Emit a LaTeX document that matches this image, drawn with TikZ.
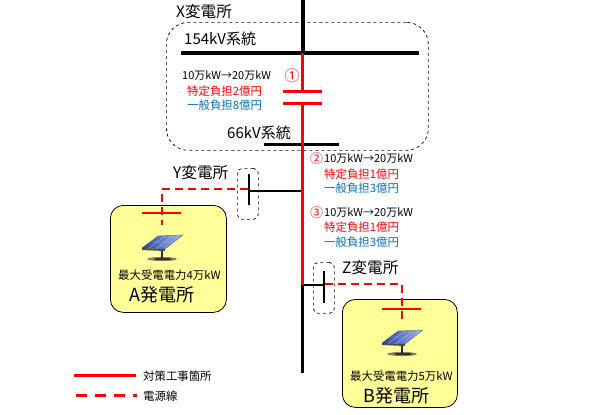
\documentclass[tikz,border=0pt]{standalone}
\usepackage{fontspec}
\setmainfont{Noto Sans CJK JP}
\usepackage{xcolor}
\usetikzlibrary{positioning, calc}
\definecolor{pwr}{HTML}{FF0000}
\definecolor{gen}{HTML}{0070C0}
\definecolor{plant}{HTML}{FFFF99}
\definecolor{cellA}{HTML}{1F3FA8}
\definecolor{cellB}{HTML}{A9BDF0}

\begin{document}
\begin{tikzpicture}[x=1pt, y=-1pt,
  lbl/.style={font=\fontsize{15}{16}\selectfont, inner sep=0pt},
  stn/.style={font=\fontsize{15.6}{16}\selectfont, inner sep=0pt},
  plantlbl/.style={font=\fontsize{18}{19}\selectfont, inner sep=0pt},
  small/.style={font=\fontsize{11.4}{12}\selectfont, inner sep=0pt},
  upgrade/.style={font=\fontsize{11}{12}\selectfont, inner sep=0pt},
  cost/.style={small, text=pwr},
  gencost/.style={small, text=gen},
  subst/.style={draw, dashed, rounded corners=5pt, line width=0.7pt},
  plantbox/.style={draw, fill=plant, rounded corners=13pt, line width=0.8pt},
  bus/.style={draw, line width=4pt},
  redline/.style={draw=pwr, line width=3pt},
  feed/.style={draw=pwr, line width=2.5pt, dashed, dash pattern=on 8pt off 5pt},
  panel/.pic={
    \fill[black!70, opacity=0.7] (0,23) ellipse (15pt and 2pt);
    \fill[black!85] (-1,15) rectangle (1,22);
    \fill[black!80] (-8,22) -- (8,22) -- (10,24) -- (-6,24) -- cycle;
    \shade[left color=cellA, right color=cellB, draw=black!60, line width=0.4pt]
      (-20,12) -- (-4,0) -- (21,-1) -- (3,13) -- cycle;
    \fill[black!70] (-20,12) -- (3,13) -- (3,15) -- (-20,14) -- cycle;
    \draw[white!60!cellA, line width=0.4pt] (-12,6) -- (12,6) (-14,12.5) -- (3,0) (-6,12.7) -- (11,-0.5);
  }
]
  \useasboundingbox (0,0) rectangle (595,415);

  % yellow boxes
  \node[plantbox, minimum width=116pt, minimum height=107pt, anchor=north west] (plantA) at (110,205) {};
  \node[plantbox, minimum width=115pt, minimum height=108pt, anchor=north west] (plantB) at (342,299) {};

  % dashed substations
  \node[subst, rounded corners=22pt, minimum width=262pt, minimum height=128pt, anchor=north west] (substX) at (166,22) {};
  \node[subst, minimum width=21pt, minimum height=51pt, anchor=north west] (substY) at (237,168) {};
  \node[subst, minimum width=21pt, minimum height=51pt, anchor=north west] (substZ) at (313,262) {};

  % points on the lines
  \coordinate (top) at (302.5,0);
  \coordinate (busL) at (181,53);
  \coordinate (busR) at (419,53);
  \coordinate (busC) at (302.5,53);
  \coordinate (capTL) at (283,91.5);
  \coordinate (capTR) at (322,91.5);
  \coordinate (capTC) at (302.5,91.5);
  \coordinate (capBL) at (283,103);
  \coordinate (capBR) at (322,103);
  \coordinate (capBC) at (302.5,103);
  \coordinate (lowL) at (264,144.5);
  \coordinate (lowR) at (339,144.5);
  \coordinate (jctY) at (302.5,190.5);
  \coordinate (jctZ) at (302.5,285);
  \coordinate (bottom) at (302.5,373);

  \coordinate (barYt) at (249,174);
  \coordinate (barYb) at (249,205);
  \coordinate (barYc) at (249,190.5);
  \coordinate (barZt) at (324,271);
  \coordinate (barZb) at (324,303);
  \coordinate (barZc) at (324,285);

  % black lines
  \draw[bus] (top) -- (busC);
  \draw[bus] (busL) -- (busR);
  \draw[line width=2.5pt] (lowL) -- (lowR);
  \draw[line width=3pt] (jctZ) -- (bottom);
  \draw[line width=2pt] (jctY) -- (barYc);
  \draw[line width=2pt] (jctZ) -- (barZc);
  \draw[line width=2.5pt] (barYt) -- (barYb);
  \draw[line width=2.5pt] (barZt) -- (barZb);

  % red lines
  \draw[redline] (busC) -- (capTC);
  \draw[redline] (capTL) -- (capTR);
  \draw[redline] (capBL) -- (capBR);
  \draw[redline] (capBC) -- (jctZ);

  % power feeds
  \coordinate (feedYs) at (248,189);
  \coordinate (feedYm) at (162,189);
  \coordinate (feedYe) at (162,225);
  \coordinate (feedZs) at (325,284);
  \coordinate (feedZm) at (402,284);
  \coordinate (feedZe) at (402,321);
  \coordinate (rxAl) at (142,213);
  \coordinate (rxAr) at (181,213);
  \coordinate (rxBl) at (382,309);
  \coordinate (rxBr) at (421,309);
  \draw[feed] (feedYs) -- (feedYm) -- (feedYe);
  \draw[feed] (feedZs) -- (feedZm) -- (feedZe);
  \draw[redline, line width=2.5pt] (rxAl) -- (rxAr);
  \draw[redline, line width=2.5pt] (rxBl) -- (rxBr);

  \pic at (162,236) {panel};
  \pic at (402,331) {panel};

  % labels
  \node[stn, anchor=west] (nameX) at (176,12) {X変電所};
  \node[lbl, anchor=west] (hv) at (184,39) {154kV系統};
  \node[lbl, anchor=west] (lv) at (227,133) {66kV系統};
  \node[stn, anchor=west] (nameY) at (173,173) {Y変電所};
  \node[stn, anchor=west] (nameZ) at (342,268) {Z変電所};

  \node[upgrade, anchor=west] (upA) at (182,76) {10万kW→20万kW};
  \node[small, text=pwr, font=\fontsize{15}{16}\selectfont] (numA) at (292,76) {①};
  \node[cost, anchor=west] (costA) at (187,91) {特定負担2億円};
  \node[gencost, anchor=west] (genA) at (187,105) {一般負担8億円};

  \node[small, text=pwr, font=\fontsize{13}{14}\selectfont] (numB) at (316.5,159) {②};
  \node[upgrade, anchor=west] (upB) at (324,159) {10万kW→20万kW};
  \node[cost, anchor=west] (costB) at (324,174) {特定負担1億円};
  \node[gencost, anchor=west] (genB) at (324,188) {一般負担3億円};

  \node[small, text=pwr, font=\fontsize{13}{14}\selectfont] (numC) at (316.5,213) {③};
  \node[upgrade, anchor=west] (upC) at (324,213) {10万kW→20万kW};
  \node[cost, anchor=west] (costC) at (324,227) {特定負担1億円};
  \node[gencost, anchor=west] (genC) at (324,242) {一般負担3億円};

  \node[small, anchor=west] (maxA) at (118,275) {最大受電電力4万kW};
  \node[plantlbl, anchor=west] (nameA) at (129,295) {A発電所};
  \node[small, anchor=west] (maxB) at (350,376) {最大受電電力5万kW};
  \node[plantlbl, anchor=west] (nameB) at (363,396) {B発電所};

  % legend
  \node[small, anchor=west] (keyW) at (143,376) {対策工事箇所};
  \node[small, anchor=west] (keyP) at (143,396) {電源線};
  \coordinate (keyWs) at (74,375);
  \coordinate (keyWe) at (136,375);
  \coordinate (keyPs) at (76,395);
  \coordinate (keyPe) at (137,395);
  \draw[redline] (keyWs) -- (keyWe);
  \draw[feed, line width=3pt, dash pattern=on 11pt off 8pt] (keyPs) -- (keyPe);
\end{tikzpicture}
\end{document}
